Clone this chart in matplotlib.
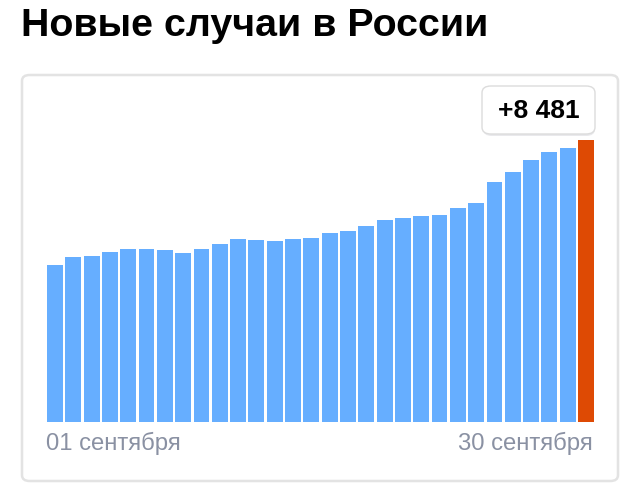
import matplotlib
matplotlib.use("Agg")
import matplotlib.pyplot as plt
from matplotlib.patches import FancyBboxPatch

plt.rcParams['font.family'] = ['Liberation Sans', 'DejaVu Sans']

title = "Новые случаи в России"
days = list(range(1, 31))
cases = [4717, 4958, 4988, 5109, 5199, 5199, 5169, 5079, 5199, 5350,
         5500, 5470, 5440, 5500, 5530, 5681, 5741, 5892, 6072, 6133,
         6193, 6223, 6434, 6584, 7217, 7518, 7879, 8120, 8240, 8481]
first_label = "01 сентября"
last_label = "30 сентября"
tooltip = "+8 481"

W, H = 640, 485
fig = plt.figure(figsize=(W / 100, H / 100), dpi=100)

def fx(px):
    return px / W

def fy(py):
    return 1 - py / H

# card
card = FancyBboxPatch((fx(22), fy(482)), fx(618) - fx(22), fy(76) - fy(482),
                      boxstyle="round,pad=0,rounding_size=0.012",
                      transform=fig.transFigure, facecolor="white",
                      edgecolor="#e3e3e3", linewidth=1.8, zorder=-1)
fig.patches.append(card)

# title
fig.text(fx(21), fy(26), title, fontsize=28.4, fontweight="bold",
         ha="left", va="center", color="black")

# axes
left, right, bottom, top = 47, 594, 422.5, 141
ax = fig.add_axes([fx(left), fy(bottom), fx(right) - fx(left), fy(top) - fy(bottom)])
ax.set_zorder(1)
ax.set_facecolor("none")
colors = ["#66AEFF"] * (len(cases) - 1) + ["#DE4A04"]
x = list(range(len(cases)))
ax.bar(x, cases, width=0.87, color=colors, linewidth=0)
ax.set_xlim(-0.435, len(cases) - 1 + 0.435)
ax.set_ylim(0, max(cases))
for s in ax.spines.values():
    s.set_visible(False)
ax.set_xticks([])
ax.set_yticks([])

# x labels
fig.text(fx(46), fy(443), first_label, fontsize=17.2, color="#8a91a3",
         ha="left", va="center")
fig.text(fx(593), fy(443), last_label, fontsize=17.2, color="#8a91a3",
         ha="right", va="center")

# tooltip with shadow
shadow = FancyBboxPatch((fx(483), fy(137)), fx(595) - fx(483), fy(89) - fy(137),
                        boxstyle="round,pad=0,rounding_size=0.014",
                        transform=fig.transFigure, facecolor="#e9e9ec",
                        edgecolor="none", zorder=2)
fig.patches.append(shadow)
box = FancyBboxPatch((fx(482), fy(135)), fx(595) - fx(482), fy(87) - fy(135),
                     boxstyle="round,pad=0,rounding_size=0.014",
                     transform=fig.transFigure, facecolor="white",
                     edgecolor="#dcdcdc", linewidth=1.0, zorder=3)
fig.patches.append(box)
fig.text(fx(538.5), fy(111), tooltip, fontsize=19, fontweight="bold",
         ha="center", va="center", color="black", zorder=4)

fig.savefig("out.png", dpi=100)
